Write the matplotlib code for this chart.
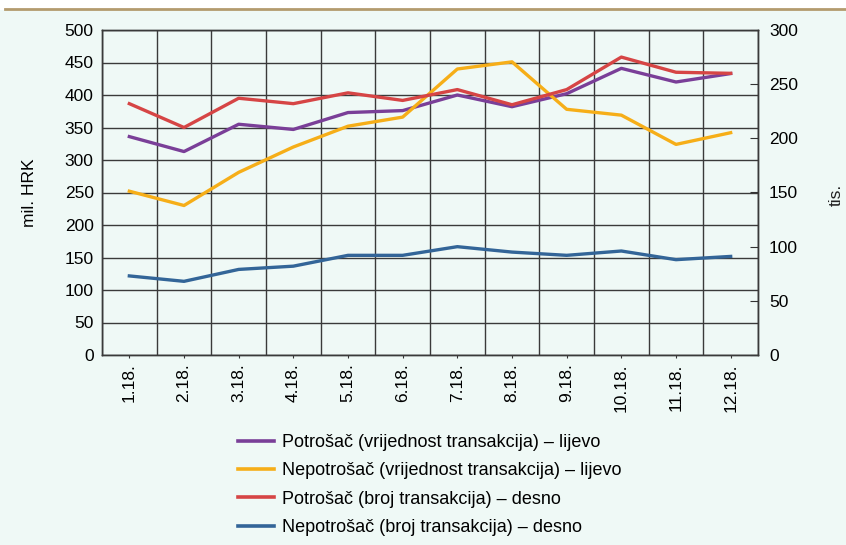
import matplotlib.pyplot as plt
import numpy as np
from matplotlib.patches import Rectangle
from matplotlib.lines import Line2D

plt.rcParams["font.family"] = ["Liberation Sans", "DejaVu Sans"]

months = ["1.18.", "2.18.", "3.18.", "4.18.", "5.18.", "6.18.",
          "7.18.", "8.18.", "9.18.", "10.18.", "11.18.", "12.18."]

# left axis (mil. HRK)
potrosac_vrijednost = [336, 313, 355, 347, 373, 376, 400, 382, 402, 441, 420, 433]
nepotrosac_vrijednost = [252, 230, 281, 320, 352, 366, 440, 451, 378, 369, 324, 342]
# right axis (tis.)
potrosac_broj = [232, 210, 237, 232, 242, 235, 245, 231, 245, 275, 261, 260]
nepotrosac_broj = [73, 68, 79, 82, 92, 92, 100, 95, 92, 96, 88, 91]

labels = [
    "Potrošač (vrijednost transakcija) – lijevo",
    "Nepotrošač (vrijednost transakcija) – lijevo",
    "Potrošač (broj transakcija) – desno",
    "Nepotrošač (broj transakcija) – desno",
]
colors = ["#7a3f98", "#f6ae18", "#d64545", "#336598"]

bg = "#eff9f6"
fs = 12.5

fig = plt.figure(figsize=(8.46, 5.45), dpi=100, facecolor="white")
fig.patches.append(Rectangle((0, 0), 1, 1 - 10 / 545, transform=fig.transFigure,
                             facecolor=bg, edgecolor="none", zorder=-10))
fig.lines.append(Line2D([5 / 846, 1], [1 - 9 / 545] * 2, transform=fig.transFigure,
                        color="#b39b6e", lw=2))

ax = fig.add_axes([102 / 846, 1 - 355 / 545, 656 / 846, 325 / 545])
ax.set_facecolor(bg)
ax2 = ax.twinx()

x = np.arange(len(months))
ax.plot(x, potrosac_vrijednost, color=colors[0], lw=2.4, zorder=3)
ax.plot(x, nepotrosac_vrijednost, color=colors[1], lw=2.4, zorder=3)
ax2.plot(x, potrosac_broj, color=colors[2], lw=2.4, zorder=3)
ax2.plot(x, nepotrosac_broj, color=colors[3], lw=2.4, zorder=3)

ax.set_xlim(-0.5, len(months) - 0.5)
ax.set_ylim(0, 500)
ax.set_yticks(np.arange(0, 501, 50))
ax2.set_ylim(0, 300)
ax2.set_yticks(np.arange(0, 301, 50))

ax.set_xticks(x, months, rotation=90, fontsize=fs)
ax.set_xticks(np.arange(-0.5, len(months), 1), minor=True)
ax.tick_params(axis="x", which="major", length=2, color="#333333", pad=4)
ax.tick_params(axis="x", which="minor", length=0)
ax.tick_params(axis="y", labelsize=fs, length=0, pad=6)
ax2.tick_params(axis="y", labelsize=fs, direction="in", length=6, color="#333333", pad=8)

ax.grid(True, axis="y", which="major", color="#3a3a3a", lw=1)
ax.grid(True, axis="x", which="minor", color="#3a3a3a", lw=1)
ax.set_axisbelow(True)

for a in (ax, ax2):
    for s in a.spines.values():
        s.set_color("#3a3a3a")
        s.set_linewidth(1)

ax.set_ylabel("mil. HRK", fontsize=fs, labelpad=20)
fig.text(829 / 846, 1 - 195 / 545, "tis.", rotation=90, fontsize=fs,
         ha="left", va="center", color="#222222")

handles = [Line2D([], [], color=c, lw=2.6) for c in colors]
fig.legend(handles, labels, loc="upper center", bbox_to_anchor=(430 / 846, 1 - 418 / 545),
           bbox_transform=fig.transFigure, frameon=False, fontsize=13,
           handlelength=2.0, handletextpad=0.45, labelspacing=0.62)

plt.savefig("out.png", dpi=100, facecolor="white")
